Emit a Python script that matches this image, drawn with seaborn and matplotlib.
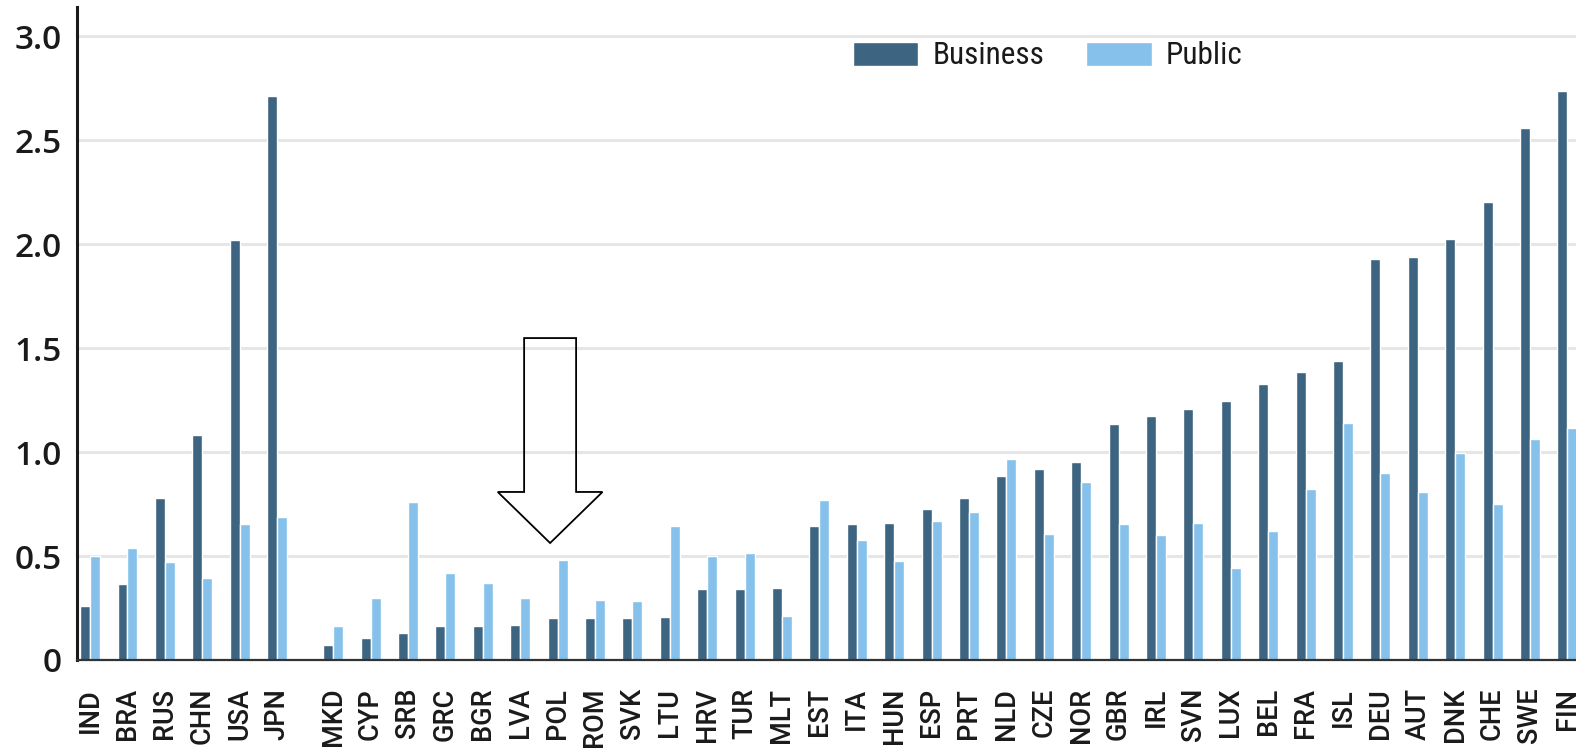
import pandas as pd
import matplotlib.pyplot as plt
from matplotlib.patches import Polygon
import seaborn as sns

countries = ["IND", "BRA", "RUS", "CHN", "USA", "JPN",
             "MKD", "CYP", "SRB", "GRC", "BGR", "LVA", "POL", "ROM", "SVK", "LTU",
             "HRV", "TUR", "MLT", "EST", "ITA", "HUN", "ESP", "PRT", "NLD", "CZE",
             "NOR", "GBR", "IRL", "SVN", "LUX", "BEL", "FRA", "ISL", "DEU", "AUT",
             "DNK", "CHE", "SWE", "FIN"]
business = [0.26, 0.365, 0.78, 1.08, 2.02, 2.71,
            0.07, 0.105, 0.13, 0.165, 0.165, 0.17, 0.20, 0.20, 0.20, 0.205,
            0.34, 0.34, 0.345, 0.645, 0.655, 0.66, 0.725, 0.78, 0.885, 0.92,
            0.95, 1.135, 1.175, 1.205, 1.245, 1.325, 1.385, 1.44, 1.93, 1.94,
            2.025, 2.20, 2.56, 2.735]
public = [0.50, 0.54, 0.47, 0.395, 0.655, 0.69,
          0.165, 0.30, 0.76, 0.42, 0.37, 0.30, 0.48, 0.29, 0.285, 0.645,
          0.50, 0.515, 0.21, 0.77, 0.575, 0.475, 0.67, 0.71, 0.965, 0.605,
          0.855, 0.655, 0.60, 0.66, 0.44, 0.62, 0.82, 1.14, 0.90, 0.81,
          0.995, 0.75, 1.065, 1.115]
n_outside = 6  # non-European countries, drawn before the gap
y_ticks = [0, 0.5, 1.0, 1.5, 2.0, 2.5, 3.0]
y_tick_labels = ["0", "0.5", "1.0", "1.5", "2.0", "2.5", "3.0"]

n = len(countries)
pos = [i if i < n_outside else i + 0.5 for i in range(n)]
df = pd.DataFrame({
    "country": countries * 2,
    "pos": pos * 2,
    "sector": ["Business"] * n + ["Public"] * n,
    "value": business + public,
})

narrow = ["DejaVu Sans Condensed", "Liberation Sans Narrow", "Roboto Condensed",
          "Roboto", "DejaVu Sans"]
sns.set_style("white")
plt.rcParams["font.family"] = narrow

fig = plt.figure(figsize=(15.76, 7.53), dpi=100)
ax = fig.add_axes([77 / 1576, 93 / 753, 1 - 77 / 1576, 653 / 753])

sns.barplot(data=df, x="pos", y="value", hue="sector", native_scale=True,
            palette={"Business": "#3d6480", "Public": "#85c1ea"},
            width=0.53, gap=0, saturation=1, errorbar=None, ax=ax)

ax.set_xlim(-0.35, 39.73)
ax.set_ylim(0, 3.14)
ax.set_xlabel("")
ax.set_ylabel("")

ax.set_xticks(pos)
ax.set_xticklabels(countries, rotation=90, fontsize=19.5, color="#1a1a1a",
                   fontweight="medium", family=["Roboto", "DejaVu Sans"])
ax.tick_params(axis="x", length=0, pad=20)

ax.set_yticks(y_ticks)
ax.set_yticklabels(y_tick_labels)
ax.tick_params(axis="y", length=8, width=1.8, color="#1a1a1a", pad=3,
               labelsize=24, labelcolor="#1a1a1a")
for lab in ax.get_yticklabels():
    lab.set_fontfamily(["Open Sans", "DejaVu Sans"])
    lab.set_fontweight("semibold")

ax.yaxis.grid(True, color="#e6e6e6", lw=2.2)
ax.set_axisbelow(True)
for s in ["top", "right"]:
    ax.spines[s].set_visible(False)
ax.spines["left"].set_linewidth(2.2)
ax.spines["left"].set_color("#1a1a1a")
ax.spines["bottom"].set_linewidth(1.6)
ax.spines["bottom"].set_color("#333333")

handles, labels = ax.get_legend_handles_labels()
leg = ax.legend(handles, labels, loc="center", bbox_to_anchor=(0.6475, 0.925),
                ncol=2, frameon=False, handlelength=2.1, handleheight=0.8,
                handletextpad=0.45, columnspacing=1.35,
                prop={"family": narrow, "size": 22.5})
for t in leg.get_texts():
    t.set_color("#1a1a1a")

# hollow arrow pointing at POL
cx = 12.3
arrow = Polygon([(cx - 0.695, 1.548), (cx + 0.695, 1.548), (cx + 0.695, 0.808),
                 (cx + 1.40, 0.808), (cx, 0.5625), (cx - 1.40, 0.808),
                 (cx - 0.695, 0.808)],
                closed=True, fill=False, edgecolor="black", lw=1.3, zorder=5)
ax.add_patch(arrow)

fig.savefig("out.png", dpi=100)
